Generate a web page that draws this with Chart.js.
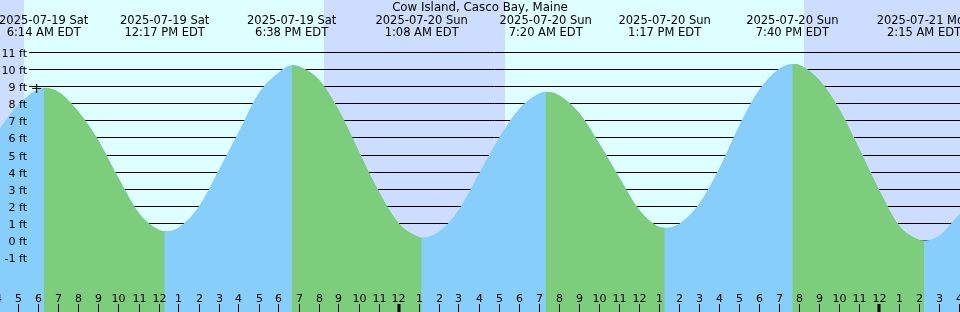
<!DOCTYPE html>
<html>
<head>
<meta charset="utf-8">
<script src="https://cdn.jsdelivr.net/npm/chart.js@4.4.1/dist/chart.umd.min.js"></script>
<style>
html,body{margin:0;padding:0;background:#ddffff;overflow:hidden}
#wrap{width:960px;height:312px}
canvas{display:block}
</style>
</head>
<body>
<div id="wrap"><canvas id="c" width="960" height="312"></canvas></div>
<script>
// ---------------- data ----------------
const chartTitle = 'Cow Island, Casco Bay, Maine';
const baseTime = '2025-07-20T00:00';

// tide height (ft) at the given local times
const tideTimes = [
  '2025-07-19T04:00','2025-07-19T05:00','2025-07-19T06:00','2025-07-19T06:14','2025-07-19T07:00',
  '2025-07-19T08:00','2025-07-19T09:00','2025-07-19T10:00','2025-07-19T11:00','2025-07-19T12:00',
  '2025-07-19T12:17','2025-07-19T13:00','2025-07-19T14:00','2025-07-19T15:00','2025-07-19T16:00',
  '2025-07-19T17:00','2025-07-19T18:00','2025-07-19T18:38','2025-07-19T19:00','2025-07-19T20:00',
  '2025-07-19T21:00','2025-07-19T22:00','2025-07-19T23:00','2025-07-20T00:00','2025-07-20T01:00',
  '2025-07-20T01:08','2025-07-20T02:00','2025-07-20T03:00','2025-07-20T04:00','2025-07-20T05:00',
  '2025-07-20T06:00','2025-07-20T07:00','2025-07-20T07:20','2025-07-20T08:00','2025-07-20T09:00',
  '2025-07-20T10:00','2025-07-20T11:00','2025-07-20T12:00','2025-07-20T13:00','2025-07-20T13:17',
  '2025-07-20T14:00','2025-07-20T15:00','2025-07-20T16:00','2025-07-20T17:00','2025-07-20T18:00',
  '2025-07-20T19:00','2025-07-20T19:40','2025-07-20T20:00','2025-07-20T21:00','2025-07-20T22:00',
  '2025-07-20T23:00','2025-07-21T00:00','2025-07-21T01:00','2025-07-21T02:00','2025-07-21T02:15',
  '2025-07-21T03:00','2025-07-21T04:00','2025-07-21T04:06'
];
const tideHeights = [
  6.5, 8.0, 8.88, 8.94, 8.68,
  7.5, 5.8, 3.6, 1.6, 0.62,
  0.55, 0.78, 2.0, 4.15, 6.4,
  8.65, 9.85, 10.25, 10.18, 9.4,
  7.6, 5.2, 2.85, 1.0, 0.2,
  0.17, 0.52, 1.82, 3.9, 6.0,
  7.7, 8.6, 8.7, 8.5, 7.47,
  5.7, 3.72, 1.82, 0.8, 0.75,
  0.97, 2.15, 4.2, 6.7, 8.8,
  10.05, 10.33, 10.28, 9.4, 7.72,
  5.4, 2.98, 0.88, 0.05, 0.0,
  0.28, 1.5, 1.62
];

// high / low tide events shown in the header
const eventTimes = ['2025-07-19T06:14','2025-07-19T12:17','2025-07-19T18:38','2025-07-20T01:08',
                    '2025-07-20T07:20','2025-07-20T13:17','2025-07-20T19:40','2025-07-21T02:15'];
const eventDates = ['2025-07-19 Sat','2025-07-19 Sat','2025-07-19 Sat','2025-07-20 Sun',
                    '2025-07-20 Sun','2025-07-20 Sun','2025-07-20 Sun','2025-07-21 Mon'];
const eventClock = ['6:14 AM EDT','12:17 PM EDT','6:38 PM EDT','1:08 AM EDT',
                    '7:20 AM EDT','1:17 PM EDT','7:40 PM EDT','2:15 AM EDT'];

// current-time mark (+)
const markTimes = ['2025-07-19T05:53'];
const markHeights = [8.9];

// night (sunset -> sunrise)
const nightStart = ['2025-07-18T20:15','2025-07-19T20:15','2025-07-20T20:15'];
const nightEnd   = ['2025-07-19T05:15','2025-07-20T05:18','2025-07-21T05:18'];

// axes
const yTickValues = [11,10,9,8,7,6,5,4,3,2,1,0,-1];
const hourTickStart = '2025-07-19T04:00';
const hourTickLabels = ('4 5 6 7 8 9 10 11 12 1 2 3 4 5 6 7 8 9 10 11 12 ' +
                        '1 2 3 4 5 6 7 8 9 10 11 12 1 2 3 4 5 6 7 8 9 10 11 12 1 2 3 4').split(' ');
const viewStart = '2025-07-19T04:03';
const viewEnd   = '2025-07-21T04:03';
const yMin = -4.184, yMax = 14.073;

// ---------------- styling ----------------
const DAY = '#ddffff', NIGHT = '#ccddff', RISE = '#87cefa', FALL = '#7ccd7c';
const AXIS_FONT = '11px "DejaVu Sans", sans-serif';
const HEAD_FONT = '11.5px "DejaVu Sans", sans-serif';
const TITLE_FONT = '11.8px "DejaVu Sans", sans-serif';
const CLEAR = 'rgba(0,0,0,0)';

function hoursFrom(s) {
  return (Date.parse(s + ':00Z') - Date.parse(baseTime + ':00Z')) / 3600000;
}

const tidePlugin = {
  id: 'tidePlugin',
  beforeDraw(chart) {
    const ctx = chart.ctx, xs = chart.scales.x;
    ctx.save();
    ctx.fillStyle = DAY;
    ctx.fillRect(0, 0, chart.width, chart.height);
    ctx.fillStyle = NIGHT;
    for (let i = 0; i < nightStart.length; i++) {
      const a = Math.round(xs.getPixelForValue(hoursFrom(nightStart[i])));
      const b = Math.round(xs.getPixelForValue(hoursFrom(nightEnd[i])));
      ctx.fillRect(a, 0, b - a, chart.height);
    }
    ctx.restore();
  },
  beforeDatasetsDraw(chart) {
    const ctx = chart.ctx, ys = chart.scales.y;
    ctx.save();
    ctx.strokeStyle = '#000';
    ctx.lineWidth = 1;
    for (const v of yTickValues) {
      const y = Math.floor(ys.getPixelForValue(v)) + 0.5;
      ctx.beginPath();
      ctx.moveTo(29, y);
      ctx.lineTo(chart.width, y);
      ctx.stroke();
    }
    ctx.restore();
  },
  afterDatasetsDraw(chart) {
    const ctx = chart.ctx, xs = chart.scales.x, ys = chart.scales.y;
    ctx.save();
    ctx.fillStyle = '#000';
    ctx.font = AXIS_FONT;
    ctx.textBaseline = 'alphabetic';
    // y labels
    ctx.textAlign = 'right';
    for (const v of yTickValues) {
      const y = Math.floor(ys.getPixelForValue(v)) + 0.5;
      ctx.fillText(v + ' ft', 27, y + 4);
    }
    // hour ticks + labels
    ctx.textAlign = 'center';
    const t0 = hoursFrom(hourTickStart);
    for (let i = 0; i < hourTickLabels.length; i++) {
      const t = t0 + i;
      const px = xs.getPixelForValue(t);
      const midnight = (((t % 24) + 24) % 24) === 0;
      if (midnight) {
        ctx.fillRect(Math.round(px) - 1.5, 304, 3, 8);
      } else {
        ctx.fillRect(Math.floor(px), 304, 1, 8);
      }
      ctx.fillText(hourTickLabels[i], Math.floor(px) + 0.5, 302);
    }
    // header
    ctx.font = TITLE_FONT;
    ctx.fillText(chartTitle, chart.width / 2, 11);
    ctx.font = HEAD_FONT;
    for (let i = 0; i < eventTimes.length; i++) {
      const px = xs.getPixelForValue(hoursFrom(eventTimes[i]));
      ctx.fillText(eventDates[i], px, 24);
      ctx.fillText(eventClock[i], px, 36);
    }
    ctx.restore();
  }
};

const tidePoints = tideTimes.map((t, i) => ({x: hoursFrom(t), y: tideHeights[i]}));

new Chart(document.getElementById('c'), {
  type: 'line',
  data: {
    datasets: [
      {
        label: 'now',
        data: markTimes.map((t, i) => ({x: hoursFrom(t), y: markHeights[i]})),
        showLine: false,
        fill: false,
        pointStyle: 'cross',
        pointRadius: 4.5,
        pointBorderWidth: 1,
        pointBorderColor: '#000',
        borderColor: '#000',
        clip: false
      },
      {
        label: 'falling',
        data: tidePoints,
        fill: 'start',
        pointRadius: 0,
        borderWidth: 0,
        borderColor: CLEAR,
        backgroundColor: FALL,
        cubicInterpolationMode: 'monotone',
        segment: {
          backgroundColor: c => (c.p1.parsed.y < c.p0.parsed.y ? FALL : CLEAR)
        }
      },
      {
        label: 'rising',
        data: tidePoints,
        fill: 'start',
        pointRadius: 0,
        borderWidth: 0,
        borderColor: CLEAR,
        backgroundColor: RISE,
        cubicInterpolationMode: 'monotone'
      }
    ]
  },
  options: {
    responsive: false,
    animation: false,
    events: [],
    layout: {padding: 0, autoPadding: false},
    scales: {
      x: {type: 'linear', min: hoursFrom(viewStart), max: hoursFrom(viewEnd), display: false},
      y: {type: 'linear', min: yMin, max: yMax, display: false}
    },
    plugins: {legend: {display: false}, tooltip: {enabled: false}, title: {display: false}}
  },
  plugins: [tidePlugin]
});
</script>
</body>
</html>
